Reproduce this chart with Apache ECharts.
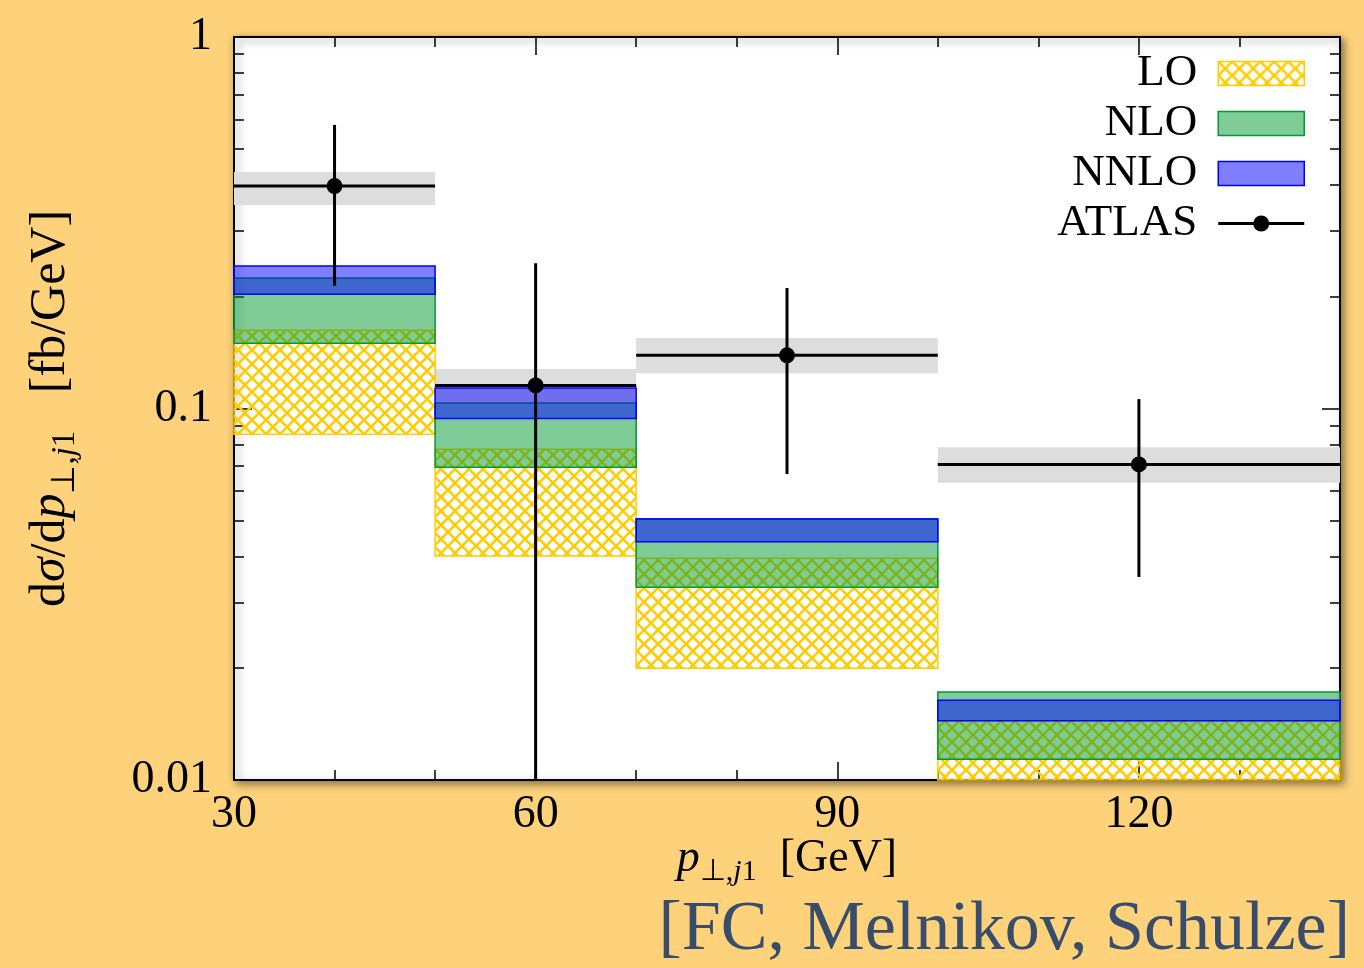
<!DOCTYPE html>
<html>
<head>
<meta charset="utf-8">
<title>pT j1 distribution</title>
<script src="https://cdn.jsdelivr.net/npm/echarts@6/dist/echarts.min.js"></script>
<style>
html, body { margin: 0; padding: 0; background: #fdd27b; }
#main { width: 1364px; height: 968px; }
</style>
</head>
<body>
<div id="main"></div>
<script>
// bins in GeV
const binLo = [30, 50, 70, 100];
const binHi = [50, 70, 100, 140];

// theory bands [fb/GeV]
const loLow = [0.0852, 0.0401, 0.0200, 0.0095];
const loHigh = [0.1623, 0.0777, 0.0395, 0.01444];
const nloLow = [0.1498, 0.0695, 0.0330, 0.01137];
const nloHigh = [0.2245, 0.1034, 0.0505, 0.01725];
const nnloLow = [0.2030, 0.0940, 0.0438, 0.01444];
const nnloHigh = [0.2417, 0.1135, 0.0504, 0.0164];

// ATLAS data
const atlasX = [40, 60, 85, 120];
const atlasY = [0.397, 0.1154, 0.139, 0.0707];
const atlasErrLo = [0.214, 0.005, 0.0666, 0.0352];
const atlasErrHi = [0.58, 0.246, 0.211, 0.106];
const atlasSysLo = [0.353, 0.1034, 0.1244, 0.0631];
const atlasSysHi = [0.433, 0.1277, 0.1548, 0.0787];

// ticks
const xMajor = [30, 60, 90, 120];
const xMinor = [40, 50, 70, 80, 100, 110, 130];
const yMajor = [0.01, 0.1, 1];
const yMinor = [0.02, 0.03, 0.04, 0.05, 0.06, 0.07, 0.08, 0.09, 0.2, 0.3, 0.4, 0.5, 0.6, 0.7, 0.8, 0.9];

const FONT = 'Liberation Serif';

function makeHatch() {
    const n = 14;
    const c = document.createElement('canvas');
    c.width = n; c.height = n;
    const g = c.getContext('2d');
    g.strokeStyle = '#ffcc00';
    g.lineWidth = 2.6;
    for (const dx of [-n, 0, n]) {
        g.beginPath(); g.moveTo(dx, 0); g.lineTo(dx + n, n); g.stroke();
        g.beginPath(); g.moveTo(dx + n, 0); g.lineTo(dx, n); g.stroke();
    }
    return c;
}
const hatch = { image: makeHatch(), repeat: 'repeat' };

const green = 'rgba(0,153,51,0.5)';
const blue = 'rgba(0,0,255,0.5)';

function bandData(lo, hi) {
    return binLo.map((x, i) => [x, binHi[i], lo[i], hi[i]]);
}

function bandRender(style) {
    return function (params, api) {
        const a = api.coord([api.value(0), api.value(3)]);
        const b = api.coord([api.value(1), api.value(2)]);
        const rect = echarts.graphic.clipRectByRect(
            { x: a[0], y: a[1], width: b[0] - a[0], height: b[1] - a[1] },
            params.coordSys
        );
        return rect && { type: 'rect', shape: rect, style: style };
    };
}

function atlasRender(params, api) {
    const cs = params.coordSys;
    const left = api.coord([api.value(0), api.value(3)]);
    const right = api.coord([api.value(1), api.value(3)]);
    const pt = api.coord([api.value(2), api.value(3)]);
    const lo = api.coord([api.value(2), api.value(4)]);
    const hi = api.coord([api.value(2), api.value(5)]);
    const yBottom = Math.min(lo[1], cs.y + cs.height);
    const yTop = Math.max(hi[1], cs.y);
    const line = { stroke: '#000', lineWidth: 3 };
    return {
        type: 'group',
        children: [
            { type: 'line', shape: { x1: left[0], y1: left[1], x2: right[0], y2: right[1] }, style: line },
            { type: 'line', shape: { x1: pt[0], y1: yTop, x2: pt[0], y2: yBottom }, style: line },
            { type: 'circle', shape: { cx: pt[0], cy: pt[1], r: 8 }, style: { fill: '#000' } }
        ]
    };
}

const atlasData = binLo.map((x, i) => [x, binHi[i], atlasX[i], atlasY[i], atlasErrLo[i], atlasErrHi[i]]);

function makeRich(size) {
    const sub = Math.round(size * 0.66);
    const lh = Math.round(size * 1.24);
    const base = { fontFamily: FONT, color: '#000' };
    return {
        r: Object.assign({ fontSize: size, lineHeight: lh }, base),
        i: Object.assign({ fontSize: size, lineHeight: lh, fontStyle: 'italic' }, base),
        s: Object.assign({ fontSize: sub, lineHeight: sub, padding: [lh - sub, 0, 0, 0] }, base),
        si: Object.assign({ fontSize: sub, lineHeight: sub, padding: [lh - sub, 0, 0, 0], fontStyle: 'italic' }, base)
    };
}

function xAxisDef(pos, ticks, len, withLabels) {
    const ax = {
        type: 'value', min: 30, max: 140, position: pos,
        splitLine: { show: false },
        axisLine: { show: false },
        axisTick: { show: true, inside: true, length: len, customValues: ticks, lineStyle: { color: '#000', width: 1.5 } },
        axisLabel: { show: false }
    };
    if (withLabels) {
        ax.axisLabel = { show: true, customValues: ticks, margin: 12, fontFamily: FONT, fontSize: 46, color: '#000' };
        ax.name = '{i|p}{s|⊥,}{si|j}{s|1}{r|  [GeV]}';
        ax.nameLocation = 'middle';
        ax.nameGap = 50;
        ax.nameMoveOverlap = false;
        ax.nameTextStyle = { rich: makeRich(46) };
    }
    return ax;
}

function yAxisDef(pos, ticks, len, withLabels) {
    const ax = {
        type: 'log', logBase: 10, min: 0.01, max: 1, position: pos,
        splitLine: { show: false },
        axisLine: { show: false },
        axisTick: { show: true, inside: true, length: len, customValues: ticks, lineStyle: { color: '#000', width: 1.5 } },
        axisLabel: { show: false }
    };
    if (withLabels) {
        ax.axisLabel = {
            show: true, customValues: ticks, margin: 22, fontFamily: FONT, fontSize: 46, color: '#000',
            formatter: v => String(+Number(v).toPrecision(3))
        };
        ax.name = '{r|d}{i|σ}{r|/d}{i|p}{s|⊥,}{si|j}{s|1}{r|   [fb/GeV]}';
        ax.nameLocation = 'middle';
        ax.nameGap = 152;
        ax.nameRotate = 90;
        ax.nameTextStyle = { rich: makeRich(50) };
    }
    return ax;
}

const atlasIcon = 'path://M0,6.5H86V9.5H0Z M35,8A8,8,0,1,1,51,8A8,8,0,1,1,35,8Z';

const chart = echarts.init(document.getElementById('main'));
chart.setOption({
    backgroundColor: '#fdd27b',
    animation: false,
    grid: {
        left: 234, right: 24, top: 37, bottom: 188,
        show: true, backgroundColor: '#fff', borderColor: '#000', borderWidth: 2,
        shadowColor: 'rgba(0,0,0,0.45)', shadowBlur: 8, shadowOffsetX: 3, shadowOffsetY: 3
    },
    xAxis: [
        xAxisDef('bottom', xMajor, 18, true),
        xAxisDef('bottom', xMinor, 10, false),
        xAxisDef('top', xMajor, 18, false),
        xAxisDef('top', xMinor, 10, false)
    ],
    yAxis: [
        yAxisDef('left', yMajor, 18, true),
        yAxisDef('left', yMinor, 10, false),
        yAxisDef('right', yMajor, 18, false),
        yAxisDef('right', yMinor, 10, false)
    ],
    legend: {
        orient: 'vertical', right: 54, top: 46, align: 'right',
        itemWidth: 86, itemHeight: 24, itemGap: 5,
        selectedMode: false,
        textStyle: { fontFamily: FONT, fontSize: 45, color: '#000', lineHeight: 44, padding: [0, 16, 0, 0] },
        data: [
            { name: 'LO', icon: 'rect', itemStyle: { color: hatch, borderColor: '#ffcc00', borderWidth: 1.5 } },
            { name: 'NLO', icon: 'rect', itemStyle: { color: green, borderColor: '#009933', borderWidth: 1.5 } },
            { name: 'NNLO', icon: 'rect', itemStyle: { color: blue, borderColor: '#0000ff', borderWidth: 1.5 } },
            { name: 'ATLAS', icon: atlasIcon, itemStyle: { color: '#000', borderWidth: 0 } }
        ]
    },
    graphic: [{
        type: 'text', right: 14, top: 896,
        style: { text: '[FC, Melnikov, Schulze]', fontFamily: FONT, fontSize: 70, fill: '#384c6c' }
    }],
    series: [
        {
            name: 'ATLAS syst', type: 'custom', renderItem: bandRender({ fill: '#dddddd' }),
            encode: { x: [0, 1], y: [2, 3] }, data: bandData(atlasSysLo, atlasSysHi)
        },
        {
            name: 'LO', type: 'custom', itemStyle: { color: '#ffcc00' },
            renderItem: bandRender({ fill: hatch, stroke: '#ffcc00', lineWidth: 1.5 }),
            encode: { x: [0, 1], y: [2, 3] }, data: bandData(loLow, loHigh)
        },
        {
            name: 'NLO', type: 'custom', itemStyle: { color: green },
            renderItem: bandRender({ fill: green, stroke: '#009933', lineWidth: 1.5 }),
            encode: { x: [0, 1], y: [2, 3] }, data: bandData(nloLow, nloHigh)
        },
        {
            name: 'NNLO', type: 'custom', itemStyle: { color: blue },
            renderItem: bandRender({ fill: blue, stroke: '#0000ff', lineWidth: 1.5 }),
            encode: { x: [0, 1], y: [2, 3] }, data: bandData(nnloLow, nnloHigh)
        },
        {
            name: 'ATLAS', type: 'custom', itemStyle: { color: '#000' },
            renderItem: atlasRender,
            encode: { x: [0, 1, 2], y: [3, 4, 5] }, data: atlasData
        }
    ]
});
</script>
</body>
</html>
